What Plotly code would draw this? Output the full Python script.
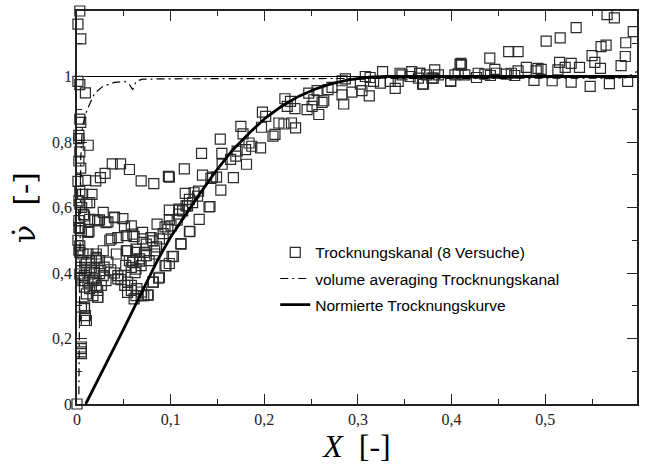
import plotly.graph_objects as go

# ---------------- data ----------------
exp_x = [
    0.003, 0.001, 0.004, 0.001, 0.003, 0.009, 0.003, 0.004, 0.002, 0.002, 0.012, 0.003, 0.002, 0.004,
    0.001, 0.003, 0.002, 0.005, 0.002, 0.001, 0.002,
    0.0377, 0.0465, 0.056, 0.0685, 0.082, 0.0976, 0.030, 0.025, 0.020, 0.009, 0.016, 0.006, 0.0135,
    0.007, 0.028, 0.019, 0.024, 0.033, 0.040, 0.049, 0.058, 0.0986, 0.107, 0.003, 0.0128, 0.0855,
    0.094, 0.097, 0.0366, 0.0436, 0.0526, 0.061, 0.070, 0.079, 0.088, 0.0526, 0.063, 0.072, 0.083,
    0.056, 0.067, 0.077, 0.028, 0.0206, 0.058,
    0.0596, 0.0685, 0.063, 0.095, 0.088, 0.081, 0.047, 0.0436, 0.051, 0.054, 0.058, 0.063, 0.0685,
    0.0755, 0.061, 0.031, 0.026, 0.022, 0.008, 0.008, 0.0047, 0.0047, 0.0,
    0.003, 0.0106, 0.008, 0.002, 0.0047, 0.0117, 0.003, 0.003, 0.0064, 0.0117, 0.0047, 0.010, 0.0153,
    0.0206, 0.0047, 0.010, 0.0153, 0.003, 0.008, 0.0135, 0.0188, 0.0064, 0.0117, 0.017, 0.008, 0.0135,
    0.0206, 0.010, 0.017, 0.0223, 0.0047, 0.008, 0.009, 0.010, 0.0047, 0.0047,
    0.0135, 0.022, 0.031, 0.040, 0.0507, 0.035, 0.0596, 0.070, 0.081, 0.074, 0.063, 0.054, 0.042,
    0.0206, 0.024, 0.033, 0.029, 0.036, 0.040, 0.0436, 0.052, 0.047, 0.0596, 0.067, 0.074, 0.083,
    0.062, 0.054, 0.058, 0.064, 0.069, 0.076, 0.024, 0.028, 0.019, 0.022, 0.141, 0.1206, 0.111,
    0.1015, 0.094, 0.0872, 0.0816, 0.0713, 0.0986, 0.109, 0.118, 0.085, 0.092,
    0.222, 0.228, 0.2245, 0.2327, 0.198, 0.2015, 0.2156, 0.221, 0.229, 0.2334, 0.197, 0.175, 0.1773,
    0.2114, 0.2093, 0.153, 0.1837, 0.180, 0.1866, 0.196, 0.133, 0.1547, 0.171, 0.1696, 0.164, 0.181,
    0.155, 0.1146, 0.134, 0.1447, 0.149, 0.143, 0.167, 0.0986, 0.1536, 0.1156, 0.125, 0.1298, 0.1287,
    0.120, 0.1234, 0.1164, 0.109, 0.1128, 0.1085, 0.142, 0.1305, 0.1004, 0.120, 0.111, 0.103, 0.0986,
    0.3263, 0.2866, 0.283, 0.3079, 0.313, 0.324, 0.3345, 0.3398, 0.343, 0.345, 0.347, 0.3557, 0.3574,
    0.3646, 0.366, 0.369, 0.3734, 0.379, 0.382, 0.3859, 0.399, 0.4036, 0.409, 0.4106, 0.407, 0.2723,
    0.268, 0.2564, 0.2475, 0.2529, 0.2635, 0.2617, 0.251, 0.2457, 0.2582, 0.2848, 0.283, 0.2936,
    0.3043, 0.3121, 0.3026, 0.3167,
    0.566, 0.5738, 0.533, 0.594, 0.501, 0.516, 0.5596, 0.565, 0.586, 0.461, 0.471, 0.4408, 0.550,
    0.553, 0.5855, 0.581, 0.559, 0.5153, 0.5277, 0.5366, 0.5213, 0.5135, 0.4798, 0.4922, 0.4957,
    0.4904, 0.410, 0.4462, 0.4479, 0.471, 0.4638, 0.4585, 0.4674, 0.4284, 0.4355, 0.4266, 0.4142,
    0.488, 0.5074, 0.5277, 0.548, 0.5685, 0.588, 0.4415, 0.366, 0.370, 0.3805, 0.399,
]
exp_y = [
    1.200, 1.160, 1.115, 0.985, 0.975, 0.950, 0.870, 0.860, 0.820, 0.810, 0.790, 0.770, 0.742, 0.720,
    0.680, 0.650, 0.620, 0.600, 0.560, 0.500, 0.470,
    0.733, 0.733, 0.716, 0.681, 0.673, 0.695, 0.704, 0.691, 0.681, 0.683, 0.640, 0.640, 0.615,
    0.578, 0.585, 0.562, 0.562, 0.556, 0.569, 0.566, 0.544, 0.563, 0.561, 0.536, 0.527, 0.549,
    0.541, 0.534, 0.504, 0.508, 0.514, 0.511, 0.504, 0.508, 0.504, 0.468, 0.463, 0.463, 0.468,
    0.438, 0.436, 0.438, 0.468, 0.458, 0.417,
    0.4325, 0.4225, 0.412, 0.4225, 0.387, 0.372, 0.392, 0.382, 0.362, 0.341, 0.347, 0.331, 0.331,
    0.333, 0.321, 0.377, 0.362, 0.326, 0.296, 0.255, 0.169, 0.154, 0.0,
    0.610, 0.615, 0.574, 0.539, 0.529, 0.524, 0.483, 0.463, 0.458, 0.458, 0.438, 0.4325, 0.438,
    0.443, 0.417, 0.412, 0.417, 0.397, 0.392, 0.397, 0.402, 0.377, 0.372, 0.377, 0.357, 0.352,
    0.357, 0.336, 0.331, 0.326, 0.296, 0.291, 0.270, 0.255, 0.174, 0.159,
    0.564, 0.559, 0.554, 0.571, 0.541, 0.500, 0.519, 0.524, 0.498, 0.488, 0.473, 0.468, 0.458,
    0.448, 0.438, 0.433, 0.418, 0.410, 0.400, 0.392, 0.423, 0.380, 0.438, 0.443, 0.453, 0.458,
    0.401, 0.372, 0.362, 0.352, 0.342, 0.332, 0.398, 0.392, 0.382, 0.347, 0.602, 0.527, 0.490,
    0.450, 0.4225, 0.384, 0.372, 0.331, 0.592, 0.592, 0.605, 0.480, 0.520,
    0.932, 0.924, 0.909, 0.902, 0.891, 0.878, 0.858, 0.855, 0.858, 0.843, 0.845, 0.848, 0.825,
    0.823, 0.818, 0.809, 0.797, 0.777, 0.787, 0.782, 0.765, 0.765, 0.772, 0.757, 0.747, 0.732,
    0.732, 0.718, 0.699, 0.693, 0.693, 0.689, 0.691, 0.693, 0.653, 0.643, 0.645, 0.650, 0.635,
    0.625, 0.615, 0.605, 0.595, 0.590, 0.580, 0.603, 0.564, 0.544, 0.526, 0.488, 0.451, 0.429,
    1.015, 0.993, 0.987, 1.000, 0.997, 0.980, 0.985, 0.964, 0.985, 1.010, 1.005, 1.000, 1.015,
    0.995, 1.010, 0.977, 1.005, 0.995, 1.020, 1.005, 0.987, 1.005, 1.037, 1.035, 1.008, 0.967,
    0.960, 0.957, 0.949, 0.929, 0.926, 0.921, 0.909, 0.899, 0.884, 0.916, 0.944, 0.952,
    0.957, 0.941, 0.977, 0.985,
    1.189, 1.179, 1.149, 1.137, 1.108, 1.118, 1.091, 1.096, 1.103, 1.076, 1.076, 1.056, 1.064,
    1.043, 1.061, 1.033, 1.025, 1.043, 1.040, 1.028, 1.028, 1.020, 1.028, 1.025, 1.022,
    1.017, 1.040, 1.022, 1.010, 1.017, 1.010, 1.007, 1.003, 1.010, 1.007, 0.997, 1.005,
    0.988, 0.987, 0.983, 0.970, 0.978, 0.985, 1.003, 1.010, 0.977, 0.995, 0.985,
]

avg_x = [0.002, 0.0025, 0.003, 0.004, 0.0057, 0.0085, 0.0117, 0.0188, 0.0277, 0.040, 0.0507,
         0.056, 0.0596, 0.063, 0.070, 0.100, 0.300, 0.500, 0.585, 0.598]
avg_y = [0.03, 0.30, 0.60, 0.75, 0.843, 0.880, 0.904, 0.949, 0.970, 0.982, 0.985,
         0.975, 0.960, 0.985, 0.992, 0.993, 0.994, 0.995, 0.995, 1.015]

norm_x = [0.0093, 0.05, 0.0862, 0.100, 0.1306, 0.148, 0.166, 0.1837, 0.2015, 0.219, 0.237,
          0.2547, 0.272, 0.290, 0.310, 0.330, 0.598]
norm_y = [0.0, 0.23, 0.44, 0.51, 0.64, 0.71, 0.775, 0.827, 0.874, 0.910, 0.940,
          0.962, 0.978, 0.990, 0.997, 1.0, 1.0]

x_ticks = [0, 0.1, 0.2, 0.3, 0.4, 0.5]
x_ticktext = ["0", "0,1", "0,2", "0,3", "0,4", "0,5"]
y_ticks = [0, 0.2, 0.4, 0.6, 0.8, 1.0]
y_ticktext = ["0", "0,2", "0,4", "0,6", "0,8", "1"]
ref_level = 1.0

# ---------------- figure ----------------
fig = go.Figure()

fig.add_trace(go.Scatter(
    x=exp_x, y=exp_y, mode="markers", name="Trocknungskanal (8 Versuche)",
    marker=dict(symbol="square-open", size=10, color="#2a2a2a", line=dict(width=1.2)),
    cliponaxis=False, legendgroup="a",
))
fig.add_trace(go.Scatter(
    x=avg_x, y=avg_y, mode="lines", name="volume averaging Trocknungskanal",
    line=dict(color="black", width=1.2, dash="8px,4px,2px,4px"), legendgroup="b",
))
fig.add_trace(go.Scatter(
    x=norm_x, y=norm_y, mode="lines", name="Normierte Trocknungskurve",
    line=dict(color="black", width=2.8), legendgroup="c",
))
fig.add_trace(go.Scatter(
    x=[0, 0.598], y=[ref_level, ref_level], mode="lines", showlegend=False,
    line=dict(color="black", width=1),
))

axis_common = dict(
    showline=True, linecolor="#222", linewidth=1.5, mirror="ticks",
    ticks="inside", ticklen=10, tickwidth=1, tickcolor="#222",
    showgrid=False, zeroline=False,
    tickfont=dict(family="Liberation Serif", size=16, color="#222"),
)

fig.update_layout(
    width=648, height=468,
    margin=dict(l=77, r=9, t=9, b=64),
    paper_bgcolor="white", plot_bgcolor="white",
    showlegend=True,
    legend=dict(
        x=0.354, y=0.428, xanchor="left", yanchor="top",
        bgcolor="rgba(0,0,0,0)", borderwidth=0,
        font=dict(family="Liberation Sans", size=15.5, color="black"),
        traceorder="grouped", tracegroupgap=3,
    ),
    xaxis=dict(
        range=[0, 0.598], tickvals=x_ticks, ticktext=x_ticktext,
        minor=dict(ticks="inside", ticklen=5, dtick=0.05, tick0=0, tickcolor="#222", showgrid=False),
        title=dict(text="<i>X</i>  [-]", font=dict(family="Liberation Serif", size=32, color="black"),
                   standoff=6),
        **axis_common,
    ),
    yaxis=dict(
        range=[0, 1.2], tickvals=y_ticks, ticktext=y_ticktext,
        minor=dict(ticks="inside", ticklen=5, dtick=0.1, tick0=0, tickcolor="#222", showgrid=False),
        title=dict(text="\u03bd\u0307  [-]", font=dict(family="DejaVu Serif", size=30, color="black"),
                   standoff=8),
        **axis_common,
    ),
)

fig.write_html("out.html")
